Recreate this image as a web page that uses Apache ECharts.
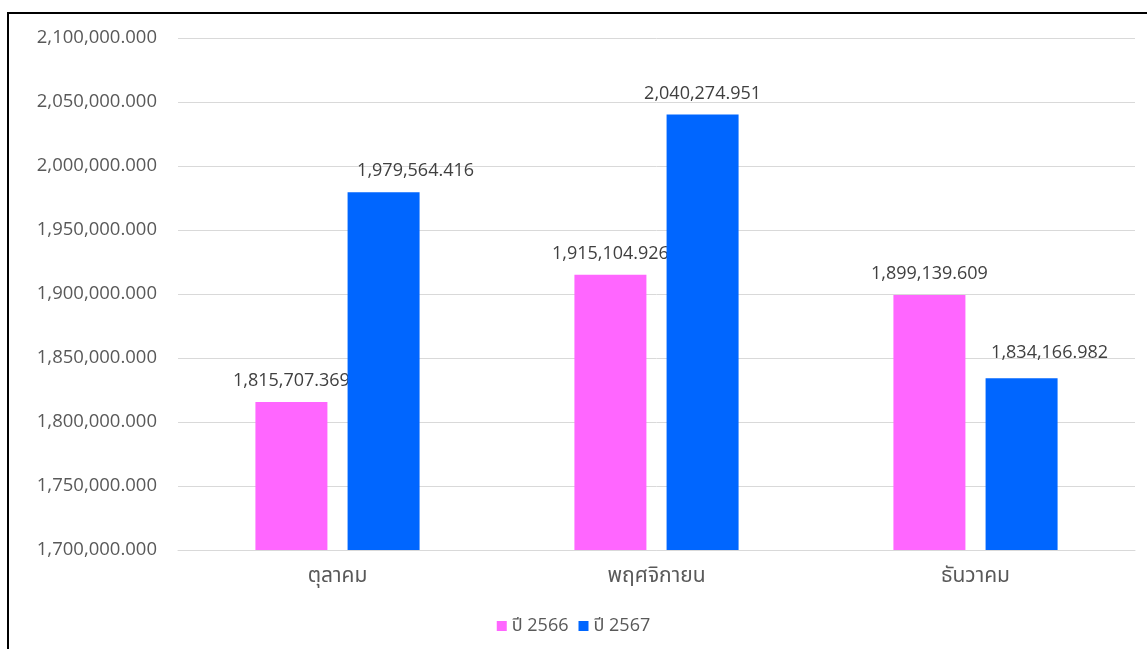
<!DOCTYPE html>
<html><head><meta charset="utf-8">
<script src="https://cdn.jsdelivr.net/npm/echarts@6/dist/echarts.min.js"></script>
<style>
html,body{margin:0;padding:0;background:#fff;}
#frame{position:absolute;left:7px;top:12px;width:1160px;height:660px;border-left:2px solid #000;border-top:2px solid #000;}
#c{position:absolute;left:0;top:0;width:1147px;height:649px;}
</style></head>
<body>
<div id="frame"></div>
<div id="c"></div>
<script>
const categories = ['ตุลาคม', 'พฤศจิกายน', 'ธันวาคม'];
const seriesNames = ['ปี 2566', 'ปี 2567'];
const values2566 = [1815707.369, 1915104.926, 1899139.609];
const values2567 = [1979564.416, 2040274.951, 1834166.982];

// label nudges (as placed in the original chart)
const labelOffsets2567 = [[32, 0], [0, 0], [28, -4]];

function fmt(v){
  const s = v.toFixed(3).split('.');
  return s[0].replace(/\B(?=(\d{3})+(?!\d))/g, ',') + '.' + s[1];
}
const font = '"Segoe UI","Open Sans","Noto Sans","Noto Sans Thai",Tahoma,sans-serif';
const labelStyle = {show:true,position:'top',distance:12,fontSize:18,color:'#404040',formatter:p=>fmt(p.value),fontFamily:font};
const chart = echarts.init(document.getElementById('c'));
chart.setOption({
  animation:false,
  textStyle:{fontFamily:font},
  grid:{left:178,right:12,top:38,bottom:99,containLabel:false},
  legend:{bottom:9,left:568,itemWidth:10,itemHeight:10,itemGap:10,icon:'rect',
    textStyle:{fontSize:18,color:'#595959',fontFamily:font},data:seriesNames},
  xAxis:{type:'category',data:categories,
    axisLine:{lineStyle:{color:'#d9d9d9'}},axisTick:{show:false},
    axisLabel:{fontSize:21,color:'#595959',margin:16,fontFamily:font}},
  yAxis:{type:'value',min:1700000,max:2100000,interval:50000,
    axisLine:{show:false},axisTick:{show:false},
    splitLine:{lineStyle:{color:'#d9d9d9'}},
    axisLabel:{fontSize:18.5,color:'#595959',margin:21,formatter:v=>fmt(v),fontFamily:font}},
  series:[
    {name:seriesNames[0],type:'bar',z:2,data:values2566,barWidth:72,barGap:'28%',
     itemStyle:{color:'#FF66FF'},label:labelStyle},
    {name:seriesNames[1],type:'bar',z:3,
     data:values2567.map((v,i)=>({value:v,label:{offset:labelOffsets2567[i]}})),barWidth:72,
     itemStyle:{color:'#0066FF'},label:labelStyle}
  ]
});
chart.setOption({legend:{left:'center'}});
</script>
</body></html>
